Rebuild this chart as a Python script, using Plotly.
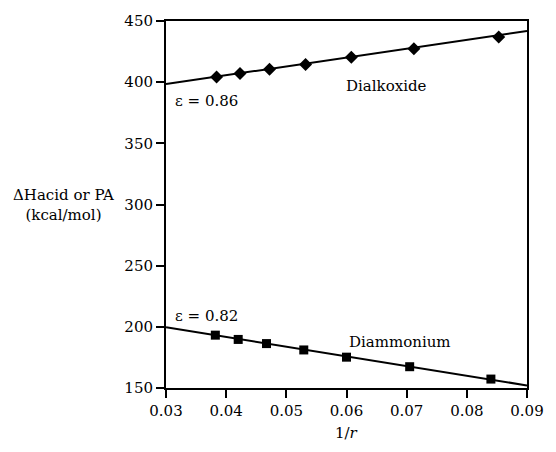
import plotly.graph_objects as go

# Data
dialkoxide_x = [0.0384, 0.0423, 0.0472, 0.0532, 0.0608, 0.0712, 0.0853]
dialkoxide_y = [404.3, 407.1, 410.5, 414.5, 420.4, 427.4, 436.9]
diammonium_x = [0.0382, 0.0420, 0.0467, 0.0529, 0.0600, 0.0705, 0.0840]
diammonium_y = [193.2, 189.7, 186.3, 181.1, 175.2, 167.4, 157.3]

fit_x = [0.03, 0.09]
dialkoxide_fit = [398.4, 441.9]
diammonium_fit = [199.6, 152.1]

x_ticks = [0.03, 0.04, 0.05, 0.06, 0.07, 0.08, 0.09]
x_ticklabels = ["0.03", "0.04", "0.05", "0.06", "0.07", "0.08", "0.09"]
y_ticks = [150, 200, 250, 300, 350, 400, 450]

FONT = "DejaVu Serif"
FS = 15

W, H = 556, 452
ML, MR, MT, MB = 166, 17, 12, 64
plot_w = W - ML - MR
plot_h = H - MT - MB


def px_x(px):
    return (px - ML) / plot_w


def px_y(py):
    return 1 - (py - MT) / plot_h


fig = go.Figure()
fig.add_trace(go.Scatter(x=fit_x, y=dialkoxide_fit, mode="lines",
                         line=dict(color="black", width=2), showlegend=False))
fig.add_trace(go.Scatter(x=fit_x, y=diammonium_fit, mode="lines",
                         line=dict(color="black", width=2), showlegend=False))
fig.add_trace(go.Scatter(x=dialkoxide_x, y=dialkoxide_y, mode="markers",
                         marker=dict(symbol="diamond", size=10, color="black"),
                         showlegend=False))
fig.add_trace(go.Scatter(x=diammonium_x, y=diammonium_y, mode="markers",
                         marker=dict(symbol="square", size=9, color="black"),
                         showlegend=False))

fig.update_layout(
    width=W, height=H,
    margin=dict(l=ML, r=MR, t=MT, b=MB),
    paper_bgcolor="white", plot_bgcolor="white",
    font=dict(family=FONT, size=FS, color="black"),
    xaxis=dict(range=[0.03, 0.09], tickvals=x_ticks, ticktext=x_ticklabels,
               showgrid=False, zeroline=False, showline=True, linecolor="black",
               linewidth=2, mirror=True, ticks="outside", ticklen=8,
               tickwidth=2, tickcolor="black", tickfont=dict(family=FONT, size=FS)),
    yaxis=dict(range=[150, 450], tickvals=y_ticks,
               showgrid=False, zeroline=False, showline=True, linecolor="black",
               linewidth=2, mirror=True, ticks="outside", ticklen=8,
               tickwidth=2, tickcolor="black", tickfont=dict(family=FONT, size=FS)),
    annotations=[
        dict(text="Dialkoxide", x=0.0666, y=396.8, xref="x", yref="y",
             showarrow=False, font=dict(family=FONT, size=FS)),
        dict(text="ε = 0.86", x=0.0367, y=384.7, xref="x", yref="y",
             showarrow=False, font=dict(family=FONT, size=FS)),
        dict(text="ε = 0.82", x=0.0367, y=209, xref="x", yref="y",
             showarrow=False, font=dict(family=FONT, size=FS)),
        dict(text="Diammonium", x=0.0689, y=188, xref="x", yref="y",
             showarrow=False, font=dict(family=FONT, size=FS)),
        dict(text="ΔHacid or PA<br>(kcal/mol)", x=px_x(60), y=px_y(200),
             xref="paper", yref="paper", showarrow=False,
             font=dict(family=FONT, size=FS),
             xanchor="center", yanchor="middle", align="center"),
        dict(text="1/<i>r</i>", x=px_x(352), y=px_y(434), xref="paper",
             yref="paper", showarrow=False, font=dict(family=FONT, size=FS),
             xanchor="center", yanchor="middle"),
    ],
)

fig.write_html(
    "out.html",
    config={"displayModeBar": False},
    post_script="document.body.style.margin='0';document.body.style.overflow='hidden';",
)
